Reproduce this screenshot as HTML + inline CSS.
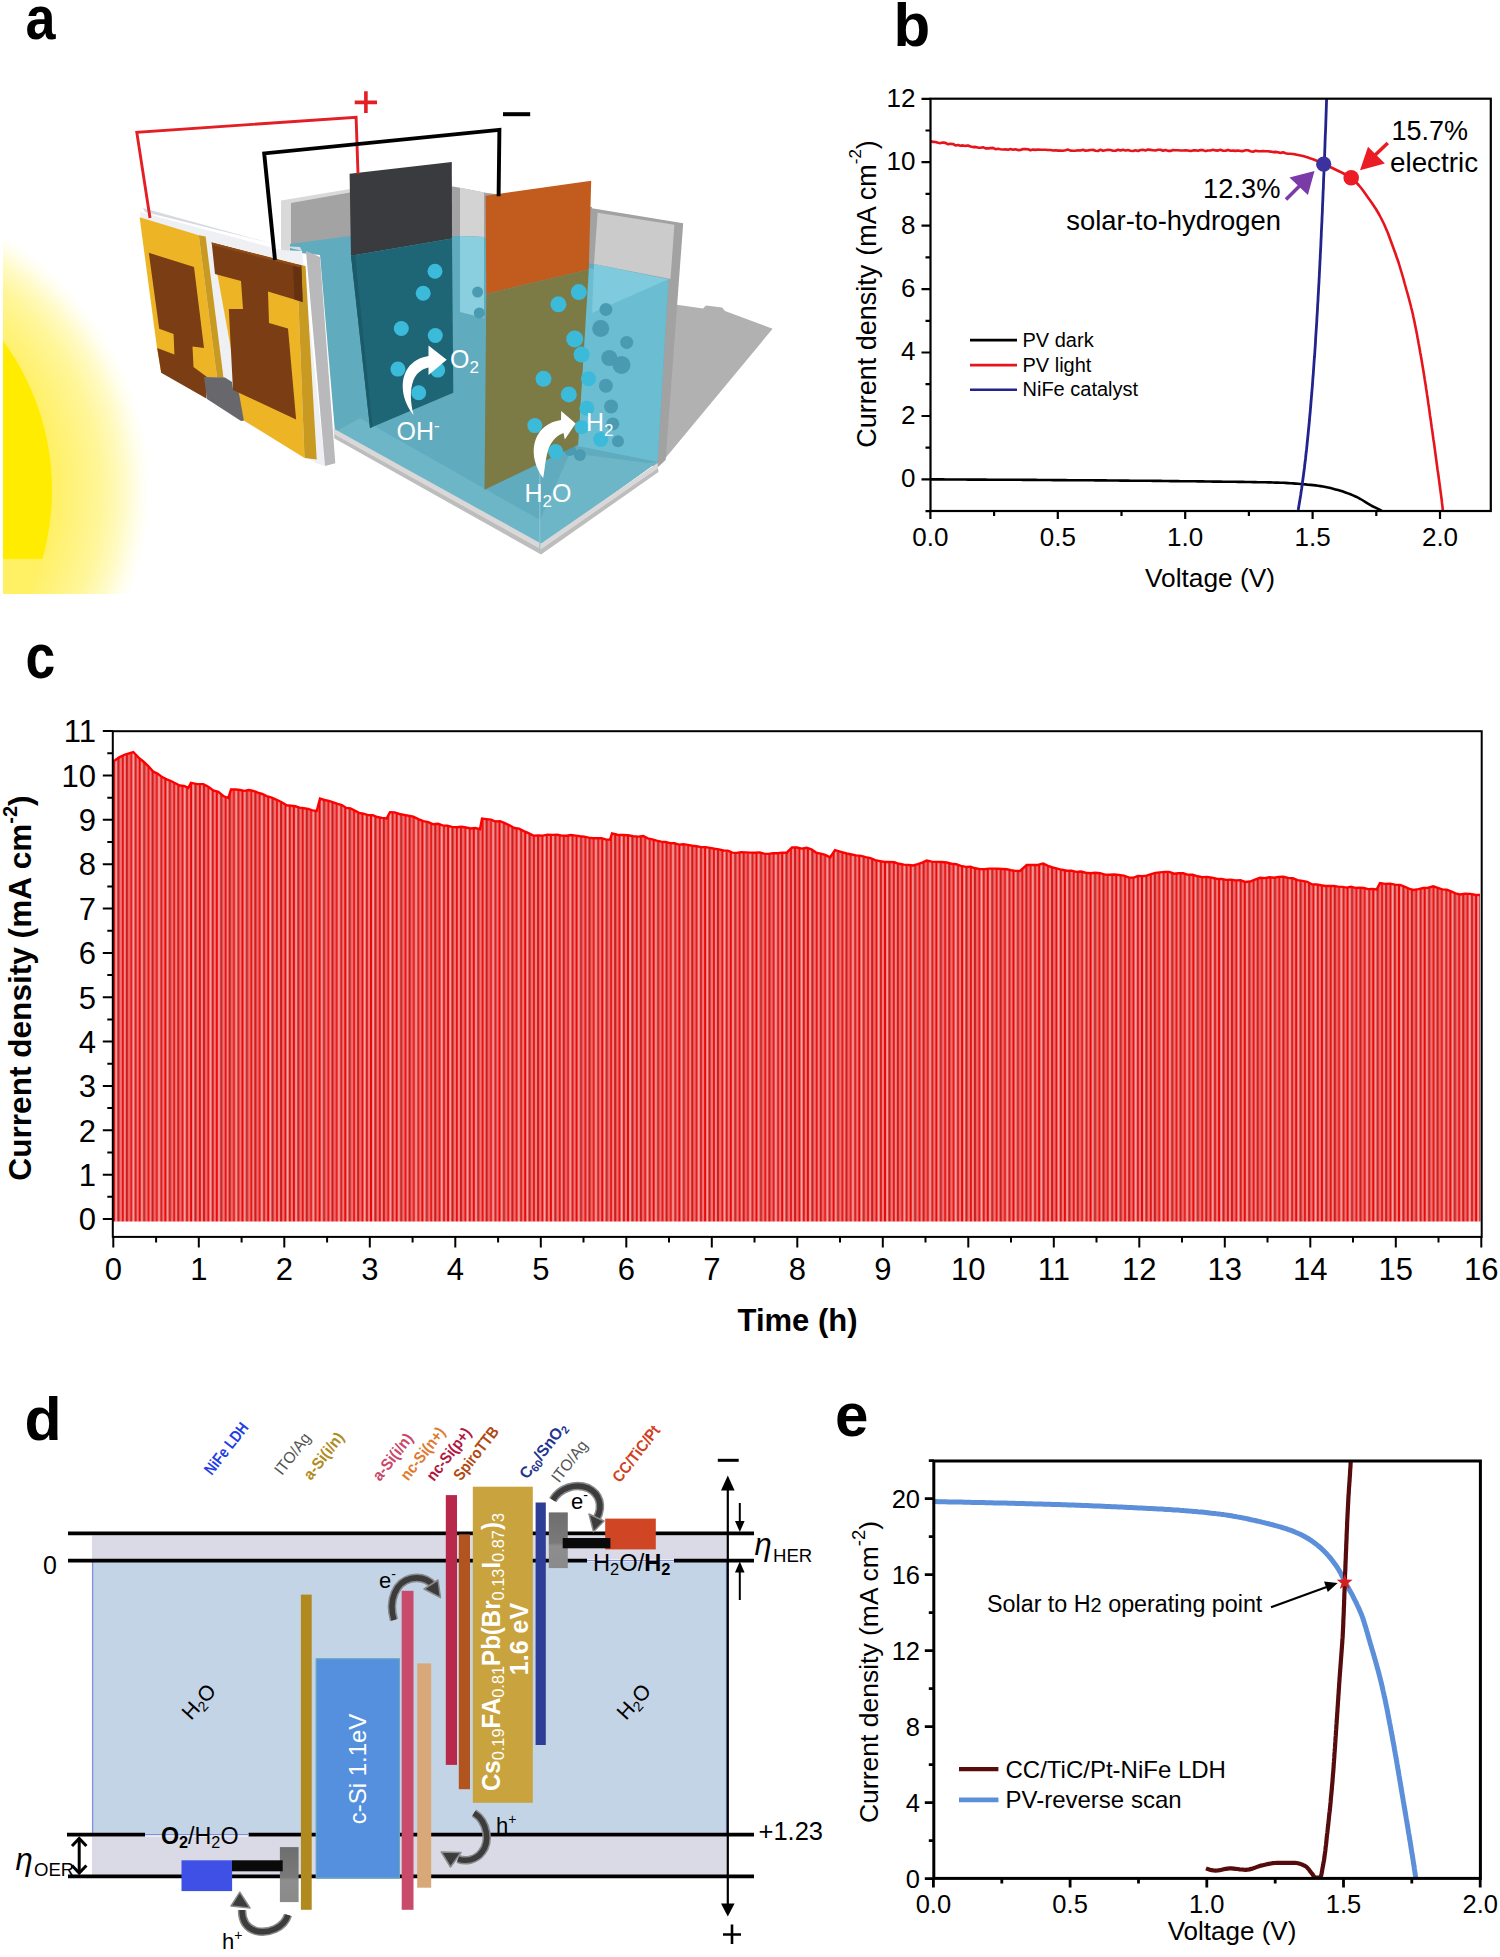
<!DOCTYPE html>
<html><head><meta charset="utf-8"><title>Figure</title>
<style>
html,body{margin:0;padding:0;background:#fff;}
body{width:1500px;height:1957px;overflow:hidden;font-family:"Liberation Sans",sans-serif;}
svg{display:block;}
text{font-family:"Liberation Sans",sans-serif;}
</style></head><body>
<svg width="1500" height="1957" viewBox="0 0 1500 1957">
<rect x="0" y="0" width="1500" height="1957" fill="#fff"/>
<text transform="translate(25.5,39.2) scale(0.87,1)" font-size="62" font-weight="bold" fill="#000">a</text>
<text transform="translate(893.5,45.6) scale(0.97,1)" font-size="62" font-weight="bold" fill="#000">b</text>
<text transform="translate(25.5,677.8) scale(0.85,1)" font-size="63" font-weight="bold" fill="#000">c</text>
<text transform="translate(24.5,1440.3) scale(0.98,1)" font-size="62" font-weight="bold" fill="#000">d</text>
<text transform="translate(835,1435.8) scale(0.97,1)" font-size="62" font-weight="bold" fill="#000">e</text>
<g id="pb">
<clipPath id="cpb"><rect x="930.5" y="98.7" width="560.3" height="412.3"/></clipPath>
<g clip-path="url(#cpb)">
<polyline points="930.5,479.4 933,479.4 935.5,479.4 938,479.4 940.5,479.4 943,479.4 945.5,479.5 948,479.5 950.5,479.5 953,479.5 955.5,479.5 958,479.5 960.5,479.5 963,479.5 965.5,479.5 968,479.6 970.5,479.6 973,479.6 975.5,479.6 978,479.6 980.5,479.6 983,479.6 985.5,479.6 988,479.7 990.5,479.7 993,479.7 995.5,479.7 998,479.7 1000.5,479.7 1003,479.7 1005.5,479.8 1008,479.8 1010.5,479.8 1013,479.8 1015.5,479.8 1018,479.8 1020.5,479.8 1023,479.9 1025.5,479.9 1028,479.9 1030.5,479.9 1033,479.9 1035.5,479.9 1038,480 1040.5,480 1043,480 1045.5,480 1048,480 1050.5,480 1053,480.1 1055.5,480.1 1058,480.1 1060.5,480.1 1063,480.1 1065.5,480.1 1068,480.2 1070.5,480.2 1073,480.2 1075.5,480.2 1078,480.2 1080.5,480.3 1083,480.3 1085.5,480.3 1088,480.3 1090.5,480.3 1093,480.3 1095.5,480.4 1098,480.4 1100.5,480.4 1103,480.4 1105.5,480.4 1108,480.5 1110.5,480.5 1113,480.5 1115.5,480.5 1118,480.5 1120.5,480.6 1123,480.6 1125.5,480.6 1128,480.6 1130.5,480.7 1133,480.7 1135.5,480.7 1138,480.7 1140.5,480.7 1143,480.8 1145.5,480.8 1148,480.8 1150.5,480.8 1153,480.9 1155.5,480.9 1158,480.9 1160.5,480.9 1163,481 1165.5,481 1168,481 1170.5,481.1 1173,481.1 1175.5,481.1 1178,481.1 1180.5,481.2 1183,481.2 1185.5,481.2 1188,481.3 1190.5,481.3 1193,481.3 1195.5,481.3 1198,481.4 1200.5,481.4 1203,481.4 1205.5,481.5 1208,481.5 1210.5,481.5 1213,481.6 1215.5,481.6 1218,481.6 1220.5,481.6 1223,481.7 1225.5,481.7 1228,481.7 1230.5,481.8 1233,481.8 1235.5,481.8 1238,481.9 1240.5,481.9 1243,481.9 1245.5,482 1248,482 1250.5,482 1253,482.1 1255.5,482.1 1258,482.2 1260.5,482.2 1263,482.3 1265.5,482.3 1268,482.4 1270.5,482.4 1273,482.5 1275.5,482.6 1278,482.6 1280.5,482.7 1283,482.8 1285.5,482.9 1288,483.1 1290.5,483.3 1293,483.4 1295.5,483.6 1298,483.8 1300.5,484 1303,484.2 1305.5,484.4 1308,484.7 1310.5,484.9 1313,485.1 1315.5,485.4 1318,485.7 1320.5,486.1 1323,486.5 1325.5,487 1328,487.5 1330.5,488.1 1333,488.7 1335.5,489.4 1338,490.1 1340.5,490.8 1343,491.6 1345.5,492.5 1348,493.4 1350.5,494.3 1353,495.4 1355.5,496.5 1358,497.6 1360.5,499 1363,500.5 1365.5,502.1 1368,503.7 1370.5,505.2 1373,506.5 1375.5,507.6 1378,508.8 1380.5,510.2 1383,512 1385.5,514.5" fill="none" stroke="#000" stroke-width="2.6"/>
<polyline points="930.5,141.1 933,141.9 935.5,142 938,142.7 940.5,143.1 943,142.6 945.5,142.9 948,144.3 950.5,143.8 953,144 955.5,145.4 958,144.9 960.5,145.7 963,145.4 965.5,145.9 968,145.5 970.5,146.5 973,147.1 975.5,146.9 978,147.6 980.5,147.8 983,147.2 985.5,148.4 988,148.4 990.5,148.1 993,147.9 995.5,149.2 998,148.8 1000.5,149.2 1003,149.5 1005.5,149.4 1008,149.8 1010.5,149.1 1013,149.8 1015.5,149.3 1018,150.1 1020.5,150 1023,149 1025.5,149.1 1028,149.2 1030.5,150.3 1033,149.6 1035.5,149.9 1038,149.5 1040.5,149.8 1043,149.7 1045.5,149.7 1048,150 1050.5,150 1053,150.5 1055.5,150.2 1058,150.6 1060.5,150.5 1063,150.7 1065.5,150.3 1068,149.6 1070.5,150.6 1073,150.8 1075.5,150.7 1078,150.3 1080.5,150.5 1083,149.8 1085.5,150.7 1088,150.4 1090.5,150 1093,149.7 1095.5,150.8 1098,151 1100.5,149.7 1103,150.7 1105.5,150.2 1108,149.8 1110.5,150 1113,150.7 1115.5,150.8 1118,149.7 1120.5,150.5 1123,149.7 1125.5,150.6 1128,150.1 1130.5,150.8 1133,151 1135.5,150.3 1138,151 1140.5,150 1143,149.7 1145.5,150.4 1148,149.6 1150.5,149.9 1153,150.2 1155.5,150.5 1158,149.8 1160.5,149.7 1163,150.8 1165.5,150 1168,150.9 1170.5,150.9 1173,150.1 1175.5,150.3 1178,150.3 1180.5,150.5 1183,150.5 1185.5,150.4 1188,150.5 1190.5,151 1193,150.4 1195.5,150.3 1198,150.7 1200.5,150 1203,150.1 1205.5,151.1 1208,150.5 1210.5,150.5 1213,149.8 1215.5,150.4 1218,150.6 1220.5,149.8 1223,150.7 1225.5,150.7 1228,149.9 1230.5,150.8 1233,150.6 1235.5,150.9 1238,150.5 1240.5,151 1243,151.1 1245.5,150.2 1248,150.3 1250.5,151.2 1253,151.7 1255.5,150.7 1258,151.1 1260.5,151.3 1263,151.1 1265.5,151.3 1268,151.3 1270.5,151.6 1273,152.1 1275.5,151.9 1278,152.3 1280.5,153 1283,152.2 1285.5,153.2 1288,153.7 1290.5,153.7 1293,154 1295.5,154.4 1298,154.9 1300.5,155.4 1303,156.1 1305.5,156.8 1308,157.6 1310.5,158.4 1313,159.3 1315.5,160.3 1318,161.3 1320.5,162.5 1323,163.7 1323.7,164 1330.2,167 1336.4,170 1342.6,173 1348.2,176 1352.5,179 1355.8,182 1358.6,185 1361.1,188 1363.4,191 1365.5,194 1367.6,197 1369.8,200 1371.9,203 1373.9,206 1375.9,209 1377.7,212 1379.4,215 1381,218 1382.5,221 1384,224 1385.3,227 1386.6,230 1387.9,233 1389,236 1390.1,239 1391.2,242 1392.3,245 1393.4,248 1394.5,251 1395.6,254 1396.6,257 1397.7,260 1398.7,263 1399.6,266 1400.5,269 1401.4,272 1402.3,275 1403.2,278 1404,281 1404.8,284 1405.7,287 1406.5,290 1407.4,293 1408.2,296 1409,299 1409.8,302 1410.6,305 1411.3,308 1412.1,311 1412.8,314 1413.4,317 1414.1,320 1414.7,323 1415.3,326 1415.9,329 1416.5,332 1417.1,335 1417.6,338 1418.2,341 1418.7,344 1419.3,347 1419.8,350 1420.3,353 1420.9,356 1421.4,359 1421.9,362 1422.4,365 1422.9,368 1423.4,371 1423.9,374 1424.4,377 1424.8,380 1425.3,383 1425.8,386 1426.2,389 1426.7,392 1427.1,395 1427.6,398 1428,401 1428.4,404 1428.9,407 1429.3,410 1429.7,413 1430.1,416 1430.6,419 1431,422 1431.4,425 1431.8,428 1432.3,431 1432.7,434 1433.1,437 1433.5,440 1434,443 1434.4,446 1434.8,449 1435.2,452 1435.6,455 1436,458 1436.4,461 1436.8,464 1437.2,467 1437.6,470 1438.1,473 1438.5,476 1438.9,479 1439.3,482 1439.7,485 1440.1,488 1440.5,491 1440.9,494 1441.3,497 1441.7,500 1442,503 1442.4,506 1442.7,509 1443,512 1443.3,515" fill="none" stroke="#e8141c" stroke-width="2.6" stroke-linejoin="round"/>
<polyline points="1326.7,96 1326.6,99 1326.5,102 1326.4,105 1326.3,108 1326.2,111 1326.1,114 1326,117 1325.9,120 1325.8,123 1325.7,126 1325.6,129 1325.5,132 1325.3,135 1325.2,138 1325.1,141 1325,144 1324.9,147 1324.8,150 1324.7,153 1324.6,156 1324.5,159 1324.3,162 1324.2,165 1324.1,168 1324,171 1323.9,174 1323.7,177 1323.6,180 1323.5,183 1323.4,186 1323.3,189 1323.1,192 1323,195 1322.9,198 1322.8,201 1322.6,204 1322.5,207 1322.4,210 1322.3,213 1322.1,216 1322,219 1321.9,222 1321.7,225 1321.6,228 1321.4,231 1321.3,234 1321.2,237 1321,240 1320.9,243 1320.8,246 1320.6,249 1320.5,252 1320.3,255 1320.2,258 1320,261 1319.9,264 1319.7,267 1319.6,270 1319.4,273 1319.3,276 1319.1,279 1319,282 1318.8,285 1318.6,288 1318.5,291 1318.3,294 1318.1,297 1318,300 1317.8,303 1317.6,306 1317.5,309 1317.3,312 1317.1,315 1316.9,318 1316.8,321 1316.6,324 1316.4,327 1316.2,330 1316,333 1315.8,336 1315.6,339 1315.5,342 1315.3,345 1315.1,348 1314.9,351 1314.7,354 1314.5,357 1314.2,360 1314,363 1313.8,366 1313.6,369 1313.4,372 1313.2,375 1312.9,378 1312.7,381 1312.5,384 1312.3,387 1312,390 1311.8,393 1311.5,396 1311.3,399 1311,402 1310.8,405 1310.5,408 1310.3,411 1310,414 1309.7,417 1309.5,420 1309.2,423 1308.9,426 1308.6,429 1308.3,432 1308,435 1307.7,438 1307.4,441 1307.1,444 1306.8,447 1306.5,450 1306.1,453 1305.8,456 1305.5,459 1305.1,462 1304.7,465 1304.4,468 1304,471 1303.6,474 1303.2,477 1302.8,480 1302.4,483 1302,486 1301.6,489 1301.1,492 1300.7,495 1300.2,498 1299.7,501 1299.2,504 1298.7,507 1298.2,510 1297.6,513" fill="none" stroke="#23238e" stroke-width="2.8"/>
</g>
<circle cx="1323.7" cy="164.2" r="7.6" fill="#3b32a0"/>
<circle cx="1351.2" cy="177.8" r="7.8" fill="#ec1c24"/>
<rect x="930.5" y="98.7" width="560.3" height="412.3" fill="none" stroke="#000" stroke-width="2.2"/>
<path d="M925.5,511.1 H930.5 M921.5,479.4 H930.5 M925.5,447.7 H930.5 M921.5,416 H930.5 M925.5,384.2 H930.5 M921.5,352.5 H930.5 M925.5,320.8 H930.5 M921.5,289.1 H930.5 M925.5,257.4 H930.5 M921.5,225.6 H930.5 M925.5,193.9 H930.5 M921.5,162.2 H930.5 M925.5,130.5 H930.5 M921.5,98.8 H930.5 M930.4,511 V519 M994.1,511 V516 M1057.8,511 V519 M1121.5,511 V516 M1185.2,511 V519 M1248.9,511 V516 M1312.6,511 V519 M1376.3,511 V516 M1440,511 V519" stroke="#000" stroke-width="2.2" fill="none"/>
<text x="915.5" y="487.3" font-size="26" text-anchor="end" font-weight="normal" fill="#000" >0</text>
<text x="915.5" y="423.9" font-size="26" text-anchor="end" font-weight="normal" fill="#000" >2</text>
<text x="915.5" y="360.4" font-size="26" text-anchor="end" font-weight="normal" fill="#000" >4</text>
<text x="915.5" y="297" font-size="26" text-anchor="end" font-weight="normal" fill="#000" >6</text>
<text x="915.5" y="233.5" font-size="26" text-anchor="end" font-weight="normal" fill="#000" >8</text>
<text x="915.5" y="170.1" font-size="26" text-anchor="end" font-weight="normal" fill="#000" >10</text>
<text x="915.5" y="106.7" font-size="26" text-anchor="end" font-weight="normal" fill="#000" >12</text>
<text x="930.4" y="546" font-size="26" text-anchor="middle" font-weight="normal" fill="#000" >0.0</text>
<text x="1057.8" y="546" font-size="26" text-anchor="middle" font-weight="normal" fill="#000" >0.5</text>
<text x="1185.2" y="546" font-size="26" text-anchor="middle" font-weight="normal" fill="#000" >1.0</text>
<text x="1312.6" y="546" font-size="26" text-anchor="middle" font-weight="normal" fill="#000" >1.5</text>
<text x="1440" y="546" font-size="26" text-anchor="middle" font-weight="normal" fill="#000" >2.0</text>
<text transform="translate(876.3,294) rotate(-90)" font-size="27" text-anchor="middle" fill="#000">Current density<tspan dx="9">(mA cm</tspan><tspan dy="-15" font-size="17">-2</tspan><tspan dy="15">)</tspan></text>
<text x="1210" y="587" font-size="26.3" text-anchor="middle" font-weight="normal" fill="#000" >Voltage (V)</text>
<path d="M970,340.1 H1017" stroke="#000" stroke-width="2.6"/>
<path d="M970,365.1 H1017" stroke="#e8141c" stroke-width="2.6"/>
<path d="M970,389.8 H1017" stroke="#23238e" stroke-width="2.6"/>
<text x="1022.5" y="346.6" font-size="20" text-anchor="start" font-weight="normal" fill="#000" >PV dark</text>
<text x="1022.5" y="371.6" font-size="20" text-anchor="start" font-weight="normal" fill="#000" >PV light</text>
<text x="1022.5" y="396.3" font-size="20" text-anchor="start" font-weight="normal" fill="#000" >NiFe catalyst</text>
<text x="1280.5" y="197.5" font-size="27.3" text-anchor="end" font-weight="normal" fill="#000" >12.3%</text>
<text x="1281" y="229.7" font-size="27.4" text-anchor="end" font-weight="normal" fill="#000" >solar-to-hydrogen</text>
<text x="1391.5" y="140.2" font-size="27" text-anchor="start" font-weight="normal" fill="#000" >15.7%</text>
<text x="1390" y="171.7" font-size="27.8" text-anchor="start" font-weight="normal" fill="#000" >electric</text>
<path d="M1286,199.5 L1303,182.5" stroke="#7a3aa8" stroke-width="3.6" fill="none"/>
<polygon points="1314.5,171 1289.5,177.5 1307.9,195.1" fill="#7a3aa8"/>
<path d="M1387.8,143 L1372,158" stroke="#ec1c24" stroke-width="3.6" fill="none"/>
<polygon points="1360,170.2 1368,146.7 1384.9,163.6" fill="#ec1c24"/>
</g>
<g id="pc">
<defs><pattern id="stripes" x="113" y="0" width="25.7" height="10" patternUnits="userSpaceOnUse"><rect x="0" y="0" width="4.3" height="10" fill="#f6a0a0"/><rect x="0" y="0" width="2.15" height="10" fill="#ea0808"/><rect x="4.3" y="0" width="4.3" height="10" fill="#f27272"/><rect x="4.3" y="0" width="2.15" height="10" fill="#c41f1f"/><rect x="8.6" y="0" width="4.3" height="10" fill="#f48888"/><rect x="8.6" y="0" width="2.15" height="10" fill="#e81010"/><rect x="12.8" y="0" width="4.3" height="10" fill="#f06c6c"/><rect x="12.8" y="0" width="2.15" height="10" fill="#cc1c1c"/><rect x="17.1" y="0" width="4.3" height="10" fill="#f7a8a8"/><rect x="17.1" y="0" width="2.15" height="10" fill="#e60c0c"/><rect x="21.4" y="0" width="4.3" height="10" fill="#f27878"/><rect x="21.4" y="0" width="2.15" height="10" fill="#d41a1a"/></pattern></defs>
<polygon points="113.3,1221.5 113.3,761.7 125,754.3 133.3,752.7 143.3,761.7 153.3,771.7 166.7,780 188.3,788.3 191,782.7 203.3,784 228.3,798.3 231,790 253.3,790.7 266.7,796 286.7,805 316.7,810.7 320,799 333.3,801.7 363.3,814.3 386.7,818.3 390,811.7 413.3,816.7 433.3,824 480,829.3 482,819 500,821.7 533.3,835 566.7,835 580,836.7 610,840 612,833.3 633.3,836 643.3,836.7 670,843.3 696.7,846.7 736.7,852.7 786.7,853.3 792,847.7 806.7,848.3 830,857.3 835,851 846.7,852.7 880,861 913.3,865 926.7,861 946.7,863.3 980,868.3 1020,870.5 1026.7,865 1043.3,864.3 1066.7,870.7 1100,873.3 1133.3,877.3 1160,872.3 1183.3,873.3 1216.7,879 1250,881.7 1260,877.7 1283.3,876.7 1316.7,885 1376.7,889.3 1380,882.7 1400,885 1413.3,890 1433.3,886 1460,894 1480,895 1480.5,1221.5" fill="url(#stripes)"/>
<polyline points="113.3,761.4 119.2,757.4 125,754.5 133.3,752 138.3,757.3 143.3,761.5 148.3,766 153.3,771.7 157.8,773.7 162.2,777.1 166.7,779.3 171,781 175.3,783.2 179.7,785.5 184,786 188.3,787.9 191,782.9 197.2,784.1 203.3,784.1 208.3,786.7 213.3,790.5 218.3,791.9 223.3,796 228.3,798 231,789.4 235.5,789.5 239.9,790 244.4,790.9 248.8,790 253.3,790.8 257.8,792.7 262.2,794 266.7,796.1 271.7,797.6 276.7,799.8 281.7,802.3 286.7,805.3 291,805.7 295.3,806.3 299.6,807.6 303.8,808.2 308.1,808.8 312.4,810.4 316.7,811 320,798.6 324.4,800 328.9,800.8 333.3,802.3 337.6,803.9 341.9,805 346.2,807.9 350.4,808.3 354.7,810.6 359,812.9 363.3,813.7 368,815.1 372.7,815.2 377.3,817 382,817.9 386.7,818.4 390,812.3 394.7,812.4 399.3,814 404,814.9 408.6,815.8 413.3,816.6 418.3,819.1 423.3,821.1 428.3,822.1 433.3,824.3 438,823.8 442.6,825.4 447.3,825.8 452,826.9 456.6,827.2 461.3,826.8 466,827.5 470.7,828.5 475.3,828 480,829.2 482,818.5 486.5,819.1 491,819.6 495.5,821.5 500,821.1 504.8,823.2 509.5,825.3 514.3,828 519,828.6 523.8,831.1 528.5,833.2 533.3,835.6 538.1,835.5 542.8,835.6 547.6,834.6 552.4,834.9 557.2,834.8 561.9,835.6 566.7,835.7 571.1,835 575.6,835.6 580,836.3 584.3,836.7 588.6,837.6 592.9,838.3 597.1,838.2 601.4,838.3 605.7,839.4 610,839.8 612,833.4 617.3,834.7 622.6,835 628,835.3 633.3,836.2 638.3,836.6 643.3,836 647.8,838.4 652.2,839.3 656.6,840.6 661.1,841.6 665.5,842 670,843.1 674.5,843.2 678.9,844.6 683.4,844.3 687.8,844.9 692.2,845.7 696.7,846.2 701.1,847.1 705.6,847.3 710,847.9 714.5,848.8 718.9,849.4 723.4,850.5 727.8,850.6 732.3,852.6 736.7,852.9 741.2,852.2 745.8,852.4 750.3,852.6 754.9,852.7 759.4,852.4 764,853.6 768.5,853.9 773.1,853.1 777.6,853.2 782.2,852.6 786.7,852.7 792,847.4 796.9,847.5 801.8,848.6 806.7,847.8 811.4,849.3 816,852.6 820.7,853.7 825.3,854.9 830,857.4 835,850.2 840.9,851.9 846.7,853.5 851.5,854.5 856.2,855.4 861,855.9 865.7,857.2 870.5,858.1 875.2,860.2 880,861.1 884.8,862 889.5,861.9 894.3,862.3 899,863.8 903.8,864.6 908.5,865 913.3,865.5 917.8,864.2 922.2,862.7 926.7,860.6 931.7,861.6 936.7,861.9 941.7,862 946.7,862.5 951.5,863.7 956.2,864.3 961,865.8 965.7,866.9 970.5,866.8 975.2,868.3 980,869.1 984.4,869.3 988.9,868.6 993.3,868.6 997.8,868.8 1002.2,869 1006.7,869.3 1011.1,870.2 1015.6,870.9 1020,871 1026.7,865 1032.2,865 1037.8,865 1043.3,863.6 1048,865.8 1052.7,867.5 1057.3,868.6 1062,869.8 1066.7,870.7 1071.5,870.6 1076.2,871.9 1081,871.5 1085.7,872.7 1090.5,873.3 1095.2,872.8 1100,873.1 1104.8,874.6 1109.5,874.8 1114.3,874.5 1119,875 1123.8,875.6 1128.5,877.4 1133.3,877.8 1137.8,875.9 1142.2,876.2 1146.7,875.6 1151.1,874.2 1155.5,872.9 1160,872.4 1164.7,871.9 1169.3,871.9 1174,873.7 1178.6,873.3 1183.3,873.3 1188.1,874.8 1192.8,874.8 1197.6,876.3 1202.4,877.1 1207.2,876.9 1211.9,877.8 1216.7,878.7 1221.5,879 1226.2,879.9 1231,879.8 1235.7,880.4 1240.5,880.3 1245.2,882 1250,881.5 1255,879.6 1260,877.8 1264.7,878.1 1269.3,877.2 1274,877.8 1278.6,876.9 1283.3,876.8 1288.1,877.9 1292.8,878.3 1297.6,880.2 1302.4,880.9 1307.2,881.8 1311.9,884.3 1316.7,884.5 1321,885.3 1325.3,886 1329.6,886 1333.8,886 1338.1,886.6 1342.4,886.9 1346.7,887.6 1351,886.8 1355.3,887.9 1359.6,887.7 1363.8,888 1368.1,889.1 1372.4,889 1376.7,889.4 1380,883.1 1385,883.9 1390,883.8 1395,884.6 1400,885 1404.4,886.7 1408.9,888.6 1413.3,889.9 1418.3,889.1 1423.3,888 1428.3,887.7 1433.3,886.3 1437.8,887.9 1442.2,889.4 1446.7,889.6 1451.1,891.4 1455.5,893.4 1460,894.5 1465,893.7 1470,893.9 1475,894.7 1480,895" fill="none" stroke="#f00" stroke-width="2.4"/>
<rect x="112.8" y="731.2" width="1368.9" height="505.70000000000005" fill="none" stroke="#000" stroke-width="2"/>
<path d="M102.8,1219 H112.8 M107.3,1196.8 H112.8 M102.8,1174.7 H112.8 M107.3,1152.5 H112.8 M102.8,1130.3 H112.8 M107.3,1108.1 H112.8 M102.8,1086 H112.8 M107.3,1063.8 H112.8 M102.8,1041.6 H112.8 M107.3,1019.4 H112.8 M102.8,997.2 H112.8 M107.3,975.1 H112.8 M102.8,952.9 H112.8 M107.3,930.7 H112.8 M102.8,908.5 H112.8 M107.3,886.4 H112.8 M102.8,864.2 H112.8 M107.3,842 H112.8 M102.8,819.8 H112.8 M107.3,797.7 H112.8 M102.8,775.5 H112.8 M107.3,753.3 H112.8 M102.8,731.1 H112.8 M113.3,1236.9 V1247.4 M156.1,1236.9 V1242.4 M198.8,1236.9 V1247.4 M241.6,1236.9 V1242.4 M284.3,1236.9 V1247.4 M327.1,1236.9 V1242.4 M369.8,1236.9 V1247.4 M412.6,1236.9 V1242.4 M455.3,1236.9 V1247.4 M498.1,1236.9 V1242.4 M540.8,1236.9 V1247.4 M583.5,1236.9 V1242.4 M626.3,1236.9 V1247.4 M669,1236.9 V1242.4 M711.8,1236.9 V1247.4 M754.5,1236.9 V1242.4 M797.3,1236.9 V1247.4 M840,1236.9 V1242.4 M882.8,1236.9 V1247.4 M925.5,1236.9 V1242.4 M968.3,1236.9 V1247.4 M1011,1236.9 V1242.4 M1053.8,1236.9 V1247.4 M1096.5,1236.9 V1242.4 M1139.3,1236.9 V1247.4 M1182,1236.9 V1242.4 M1224.8,1236.9 V1247.4 M1267.5,1236.9 V1242.4 M1310.3,1236.9 V1247.4 M1353,1236.9 V1242.4 M1395.8,1236.9 V1247.4 M1438.5,1236.9 V1242.4 M1481.3,1236.9 V1247.4" stroke="#000" stroke-width="2" fill="none"/>
<text x="96" y="1230.2" font-size="31" text-anchor="end" font-weight="normal" fill="#000" >0</text>
<text x="96" y="1185.9" font-size="31" text-anchor="end" font-weight="normal" fill="#000" >1</text>
<text x="96" y="1141.5" font-size="31" text-anchor="end" font-weight="normal" fill="#000" >2</text>
<text x="96" y="1097.2" font-size="31" text-anchor="end" font-weight="normal" fill="#000" >3</text>
<text x="96" y="1052.8" font-size="31" text-anchor="end" font-weight="normal" fill="#000" >4</text>
<text x="96" y="1008.5" font-size="31" text-anchor="end" font-weight="normal" fill="#000" >5</text>
<text x="96" y="964.1" font-size="31" text-anchor="end" font-weight="normal" fill="#000" >6</text>
<text x="96" y="919.8" font-size="31" text-anchor="end" font-weight="normal" fill="#000" >7</text>
<text x="96" y="875.4" font-size="31" text-anchor="end" font-weight="normal" fill="#000" >8</text>
<text x="96" y="831" font-size="31" text-anchor="end" font-weight="normal" fill="#000" >9</text>
<text x="96" y="786.7" font-size="31" text-anchor="end" font-weight="normal" fill="#000" >10</text>
<text x="96" y="742.4" font-size="31" text-anchor="end" font-weight="normal" fill="#000" >11</text>
<text x="113.3" y="1279.6" font-size="31" text-anchor="middle" font-weight="normal" fill="#000" >0</text>
<text x="198.8" y="1279.6" font-size="31" text-anchor="middle" font-weight="normal" fill="#000" >1</text>
<text x="284.3" y="1279.6" font-size="31" text-anchor="middle" font-weight="normal" fill="#000" >2</text>
<text x="369.8" y="1279.6" font-size="31" text-anchor="middle" font-weight="normal" fill="#000" >3</text>
<text x="455.3" y="1279.6" font-size="31" text-anchor="middle" font-weight="normal" fill="#000" >4</text>
<text x="540.8" y="1279.6" font-size="31" text-anchor="middle" font-weight="normal" fill="#000" >5</text>
<text x="626.3" y="1279.6" font-size="31" text-anchor="middle" font-weight="normal" fill="#000" >6</text>
<text x="711.8" y="1279.6" font-size="31" text-anchor="middle" font-weight="normal" fill="#000" >7</text>
<text x="797.3" y="1279.6" font-size="31" text-anchor="middle" font-weight="normal" fill="#000" >8</text>
<text x="882.8" y="1279.6" font-size="31" text-anchor="middle" font-weight="normal" fill="#000" >9</text>
<text x="968.3" y="1279.6" font-size="31" text-anchor="middle" font-weight="normal" fill="#000" >10</text>
<text x="1053.8" y="1279.6" font-size="31" text-anchor="middle" font-weight="normal" fill="#000" >11</text>
<text x="1139.3" y="1279.6" font-size="31" text-anchor="middle" font-weight="normal" fill="#000" >12</text>
<text x="1224.8" y="1279.6" font-size="31" text-anchor="middle" font-weight="normal" fill="#000" >13</text>
<text x="1310.3" y="1279.6" font-size="31" text-anchor="middle" font-weight="normal" fill="#000" >14</text>
<text x="1395.8" y="1279.6" font-size="31" text-anchor="middle" font-weight="normal" fill="#000" >15</text>
<text x="1481.3" y="1279.6" font-size="31" text-anchor="middle" font-weight="normal" fill="#000" >16</text>
<text transform="translate(31.4,988) rotate(-90)" font-size="31.6" font-weight="bold" text-anchor="middle" fill="#000">Current density (mA cm<tspan dy="-14" font-size="20">-2</tspan><tspan dy="14">)</tspan></text>
<text x="797.5" y="1331" font-size="31" text-anchor="middle" font-weight="bold" fill="#000" >Time (h)</text>
</g>
<g id="pe">
<clipPath id="cpe"><rect x="933.8" y="1460.0" width="546.6000000000001" height="418.4000000000001"/></clipPath>
<g clip-path="url(#cpe)">
<polyline points="934,1501.6 936,1501.6 938,1501.7 940,1501.7 942,1501.7 944,1501.8 946,1501.8 948,1501.9 950,1501.9 952,1501.9 954,1502 956,1502 958,1502.1 960,1502.1 962,1502.1 964,1502.2 966,1502.2 968,1502.3 970,1502.3 972,1502.4 974,1502.4 976,1502.4 978,1502.5 980,1502.5 982,1502.6 984,1502.6 986,1502.7 988,1502.7 990,1502.8 992,1502.8 994,1502.9 996,1502.9 998,1503 1000,1503 1002,1503 1004,1503.1 1006,1503.1 1008,1503.2 1010,1503.2 1012,1503.3 1014,1503.3 1016,1503.4 1018,1503.4 1020,1503.5 1022,1503.6 1024,1503.6 1026,1503.7 1028,1503.7 1030,1503.8 1032,1503.8 1034,1503.9 1036,1503.9 1038,1504 1040,1504 1042,1504.1 1044,1504.2 1046,1504.2 1048,1504.3 1050,1504.3 1052,1504.4 1054,1504.5 1056,1504.5 1058,1504.6 1060,1504.6 1062,1504.7 1064,1504.8 1066,1504.8 1068,1504.9 1070,1505 1072,1505 1074,1505.1 1076,1505.2 1078,1505.3 1080,1505.3 1081.9,1505.4 1083.9,1505.5 1085.9,1505.6 1087.9,1505.6 1089.9,1505.7 1091.9,1505.8 1093.9,1505.9 1095.9,1506 1097.9,1506 1099.9,1506.1 1101.9,1506.2 1103.9,1506.3 1105.9,1506.4 1107.9,1506.5 1109.9,1506.6 1111.9,1506.7 1113.9,1506.7 1115.9,1506.8 1117.9,1506.9 1119.9,1507 1121.9,1507.1 1123.9,1507.2 1125.9,1507.3 1127.9,1507.4 1129.9,1507.5 1131.9,1507.6 1133.9,1507.7 1135.9,1507.8 1137.9,1507.9 1139.9,1508 1141.9,1508.1 1143.9,1508.2 1145.9,1508.3 1147.9,1508.4 1149.9,1508.5 1151.9,1508.6 1153.9,1508.7 1155.9,1508.8 1157.9,1508.9 1159.9,1509 1161.9,1509.1 1163.9,1509.2 1165.9,1509.4 1167.9,1509.5 1169.9,1509.6 1171.8,1509.7 1173.8,1509.9 1175.8,1510 1177.8,1510.1 1179.8,1510.3 1181.8,1510.4 1183.8,1510.6 1185.8,1510.7 1187.8,1510.9 1189.8,1511.1 1191.8,1511.2 1193.8,1511.4 1195.8,1511.6 1197.8,1511.8 1199.8,1511.9 1201.8,1512.1 1203.8,1512.3 1205.8,1512.5 1207.7,1512.7 1209.7,1513 1211.7,1513.2 1213.7,1513.4 1215.7,1513.6 1217.7,1513.9 1219.7,1514.1 1221.6,1514.4 1223.6,1514.6 1225.6,1514.9 1227.6,1515.2 1229.5,1515.5 1231.5,1515.8 1233.5,1516.2 1235.4,1516.5 1237.4,1516.9 1239.4,1517.2 1241.4,1517.6 1243.3,1518 1245.3,1518.4 1247.2,1518.8 1249.2,1519.2 1251.2,1519.7 1253.1,1520.1 1255.1,1520.5 1257,1521 1259,1521.4 1260.9,1521.9 1262.9,1522.4 1264.8,1522.8 1266.7,1523.3 1268.7,1523.8 1270.6,1524.3 1272.6,1524.8 1274.5,1525.3 1276.4,1525.8 1278.4,1526.4 1280.3,1526.9 1282.2,1527.5 1284.1,1528.1 1286,1528.7 1287.9,1529.4 1289.8,1530 1291.7,1530.7 1293.5,1531.4 1295.4,1532.2 1297.2,1533 1299.1,1533.8 1300.9,1534.6 1302.7,1535.5 1304.5,1536.5 1306.3,1537.5 1308,1538.5 1309.7,1539.5 1311.3,1540.6 1312.9,1541.7 1314.5,1542.9 1316.1,1544.1 1317.7,1545.4 1319.3,1546.7 1320.8,1548 1322.3,1549.4 1323.7,1550.8 1325.1,1552.2 1326.5,1553.6 1327.8,1555.1 1329.2,1556.6 1330.4,1558.1 1331.7,1559.7 1332.9,1561.3 1334.1,1562.9 1335.3,1564.5 1336.5,1566.2 1337.6,1567.9 1338.6,1569.6 1339.6,1571.3 1340.6,1573 1341.5,1574.8 1342.4,1576.6 1343.3,1578.4 1344.1,1580.2 1345.1,1582 1346,1583.7 1347,1585.5 1348,1587.2 1348.9,1589 1349.9,1590.7 1350.9,1592.5 1351.9,1594.2 1352.8,1596 1353.7,1597.8 1354.6,1599.6 1355.5,1601.3 1356.4,1603.1 1357.2,1605 1358.1,1606.8 1358.9,1608.6 1359.7,1610.4 1360.5,1612.3 1361.3,1614.1 1362,1616 1362.7,1617.8 1363.3,1619.7 1363.9,1621.6 1364.5,1623.5 1365.1,1625.4 1365.7,1627.4 1366.3,1629.3 1366.8,1631.2 1367.4,1633.1 1367.9,1635.1 1368.5,1637 1369,1638.9 1369.6,1640.8 1370.1,1642.7 1370.7,1644.7 1371.3,1646.6 1371.8,1648.5 1372.4,1650.4 1373,1652.4 1373.5,1654.3 1374.1,1656.2 1374.6,1658.1 1375.2,1660 1375.7,1662 1376.3,1663.9 1376.8,1665.8 1377.3,1667.8 1377.9,1669.7 1378.4,1671.6 1378.9,1673.5 1379.4,1675.5 1379.9,1677.4 1380.4,1679.4 1380.9,1681.3 1381.3,1683.2 1381.8,1685.2 1382.3,1687.1 1382.7,1689.1 1383.1,1691 1383.6,1693 1384,1694.9 1384.4,1696.9 1384.9,1698.8 1385.3,1700.8 1385.7,1702.7 1386.1,1704.7 1386.5,1706.7 1386.9,1708.6 1387.3,1710.6 1387.7,1712.5 1388,1714.5 1388.4,1716.5 1388.8,1718.4 1389.2,1720.4 1389.5,1722.4 1389.9,1724.3 1390.3,1726.3 1390.7,1728.3 1391,1730.2 1391.4,1732.2 1391.8,1734.2 1392.1,1736.1 1392.5,1738.1 1392.8,1740.1 1393.2,1742 1393.6,1744 1393.9,1746 1394.3,1747.9 1394.6,1749.9 1395,1751.9 1395.3,1753.9 1395.7,1755.8 1396,1757.8 1396.4,1759.8 1396.7,1761.7 1397,1763.7 1397.4,1765.7 1397.7,1767.6 1398,1769.6 1398.4,1771.6 1398.7,1773.6 1399,1775.5 1399.4,1777.5 1399.7,1779.5 1400,1781.5 1400.4,1783.4 1400.7,1785.4 1401,1787.4 1401.3,1789.3 1401.7,1791.3 1402,1793.3 1402.3,1795.3 1402.7,1797.2 1403,1799.2 1403.3,1801.2 1403.7,1803.2 1404,1805.1 1404.3,1807.1 1404.7,1809.1 1405,1811 1405.3,1813 1405.7,1815 1406,1817 1406.3,1818.9 1406.7,1820.9 1407,1822.9 1407.3,1824.8 1407.7,1826.8 1408,1828.8 1408.3,1830.8 1408.6,1832.7 1409,1834.7 1409.3,1836.7 1409.6,1838.7 1409.9,1840.6 1410.3,1842.6 1410.6,1844.6 1410.9,1846.6 1411.2,1848.5 1411.5,1850.5 1411.8,1852.5 1412.2,1854.5 1412.5,1856.4 1412.8,1858.4 1413.1,1860.4 1413.4,1862.4 1413.7,1864.3 1414.1,1866.3 1414.3,1868.3 1414.6,1870.3 1414.9,1872.2 1415.2,1874.2 1415.5,1876.2 1415.7,1878.2 1416,1880.2 1416.2,1882.2 1416.4,1884" fill="none" stroke="#5b8fd9" stroke-width="5" stroke-linejoin="round"/>
<polyline points="1206,1868.4 1207.9,1869.1 1209.9,1869.7 1211.8,1870.2 1213.8,1870.5 1215.7,1870.6 1217.7,1870.5 1219.7,1870.2 1221.7,1869.8 1223.6,1869.3 1225.6,1868.9 1227.6,1868.6 1229.6,1868.4 1231.6,1868.4 1233.6,1868.6 1235.6,1868.8 1237.6,1869 1239.6,1869.3 1241.6,1869.5 1243.6,1869.7 1245.5,1869.8 1247.5,1869.7 1249.4,1869.4 1251.4,1868.9 1253.3,1868.3 1255.2,1867.6 1257.1,1866.9 1259,1866.2 1261,1865.6 1262.9,1865.2 1264.9,1864.8 1266.8,1864.3 1268.8,1863.9 1270.8,1863.5 1272.8,1863.2 1274.7,1863 1276.7,1862.8 1278.7,1862.8 1280.7,1862.8 1282.7,1862.8 1284.7,1862.8 1286.8,1862.8 1288.8,1862.8 1290.8,1862.8 1292.7,1862.8 1294.7,1862.8 1296.7,1863 1298.8,1863.5 1300.8,1864.1 1302.7,1864.8 1304.4,1865.6 1306,1866.5 1307.4,1867.8 1308.8,1869.4 1310,1871.1 1311.3,1872.7 1312.6,1874.4 1313.8,1876.4 1315.1,1877.6 1317.1,1877.7 1319.2,1877.7 1320.2,1877.4 1321,1876 1321.5,1873.9 1322,1871.5 1322.4,1868.9 1322.8,1866.7 1323.2,1864.8 1323.5,1862.8 1323.9,1860.9 1324.2,1858.9 1324.5,1856.9 1324.7,1855 1325,1853 1325.3,1851 1325.5,1849 1325.7,1847 1326,1845 1326.2,1843 1326.4,1841 1326.6,1839 1326.8,1837 1327,1835 1327.3,1833 1327.5,1831.1 1327.7,1829.1 1327.9,1827.1 1328.2,1825.1 1328.4,1823.1 1328.6,1821.1 1328.8,1819.1 1329,1817.1 1329.2,1815.1 1329.4,1813.2 1329.7,1811.2 1329.9,1809.2 1330.1,1807.2 1330.3,1805.2 1330.5,1803.2 1330.7,1801.2 1330.8,1799.2 1331,1797.2 1331.2,1795.2 1331.4,1793.3 1331.6,1791.3 1331.8,1789.3 1331.9,1787.3 1332.1,1785.3 1332.3,1783.3 1332.5,1781.3 1332.6,1779.3 1332.8,1777.3 1332.9,1775.3 1333.1,1773.3 1333.3,1771.3 1333.4,1769.3 1333.6,1767.3 1333.7,1765.3 1333.8,1763.4 1334,1761.4 1334.1,1759.4 1334.3,1757.4 1334.4,1755.4 1334.5,1753.4 1334.7,1751.4 1334.8,1749.4 1335,1747.4 1335.1,1745.4 1335.2,1743.4 1335.4,1741.4 1335.5,1739.4 1335.6,1737.4 1335.8,1735.4 1335.9,1733.4 1336,1731.4 1336.2,1729.4 1336.3,1727.4 1336.4,1725.4 1336.6,1723.4 1336.7,1721.4 1336.8,1719.5 1337,1717.5 1337.1,1715.5 1337.2,1713.5 1337.4,1711.5 1337.5,1709.5 1337.6,1707.5 1337.8,1705.5 1337.9,1703.5 1338,1701.5 1338.2,1699.5 1338.3,1697.5 1338.4,1695.5 1338.6,1693.5 1338.7,1691.5 1338.8,1689.5 1339,1687.5 1339.1,1685.5 1339.2,1683.5 1339.4,1681.5 1339.5,1679.5 1339.6,1677.5 1339.8,1675.6 1339.9,1673.6 1340.1,1671.6 1340.2,1669.6 1340.4,1667.6 1340.5,1665.6 1340.7,1663.6 1340.8,1661.6 1341,1659.6 1341.1,1657.6 1341.3,1655.6 1341.4,1653.6 1341.6,1651.6 1341.7,1649.6 1341.9,1647.6 1342,1645.6 1342.2,1643.6 1342.3,1641.6 1342.4,1639.6 1342.6,1637.7 1342.7,1635.7 1342.8,1633.7 1342.9,1631.7 1343,1629.7 1343.1,1627.7 1343.2,1625.7 1343.3,1623.7 1343.3,1621.7 1343.4,1619.7 1343.5,1617.7 1343.6,1615.7 1343.7,1613.7 1343.8,1611.7 1343.8,1609.7 1343.9,1607.7 1344,1605.7 1344.1,1603.7 1344.1,1601.7 1344.2,1599.7 1344.3,1597.7 1344.3,1595.7 1344.4,1593.7 1344.5,1591.7 1344.6,1589.7 1344.6,1587.7 1344.7,1585.7 1344.8,1583.7 1344.8,1581.7 1344.9,1579.7 1345,1577.7 1345,1575.7 1345.1,1573.7 1345.2,1571.7 1345.3,1569.7 1345.4,1567.7 1345.4,1565.7 1345.5,1563.7 1345.6,1561.7 1345.7,1559.7 1345.8,1557.7 1345.8,1555.7 1345.9,1553.7 1346,1551.7 1346.1,1549.7 1346.2,1547.7 1346.2,1545.7 1346.3,1543.7 1346.4,1541.7 1346.5,1539.7 1346.6,1537.7 1346.6,1535.7 1346.7,1533.7 1346.8,1531.7 1346.9,1529.7 1347,1527.7 1347.1,1525.7 1347.1,1523.7 1347.2,1521.7 1347.3,1519.7 1347.4,1517.8 1347.5,1515.8 1347.6,1513.8 1347.7,1511.8 1347.8,1509.8 1347.9,1507.8 1348,1505.8 1348.1,1503.8 1348.2,1501.8 1348.3,1499.8 1348.4,1497.8 1348.5,1495.8 1348.7,1493.8 1348.8,1491.8 1348.9,1489.8 1349,1487.8 1349.2,1485.8 1349.3,1483.8 1349.5,1481.8 1349.6,1479.8 1349.7,1477.8 1349.9,1475.8 1350,1473.8 1350.1,1471.8 1350.2,1469.8 1350.4,1467.8 1350.5,1465.8 1350.6,1463.8 1350.7,1461.8 1350.8,1459.9 1350.9,1457.9 1351,1455.9 1351,1455" fill="none" stroke="#560c0c" stroke-width="4.2" stroke-linejoin="round"/>
</g>
<polygon points="1344.7,1574.1 1346.7,1579.6 1352.6,1579.8 1347.9,1583.5 1349.6,1589.1 1344.7,1585.8 1339.8,1589.1 1341.5,1583.5 1336.8,1579.8 1342.7,1579.6" fill="#d42020"/>
<path d="M1271,1607.3 L1328,1586.5" stroke="#000" stroke-width="2.2"/>
<polygon points="1337.7,1583.1 1324,1581.5 1327.8,1592" fill="#000"/>
<text x="987" y="1612" font-size="23.3" text-anchor="start" font-weight="normal" fill="#000" >Solar to H<tspan font-size="20">2</tspan> operating point</text>
<rect x="933.8" y="1461.0" width="546.6000000000001" height="417.4000000000001" fill="none" stroke="#000" stroke-width="3"/>
<path d="M924.8,1878.6 H933.8 M928.8,1840.6 H933.8 M924.8,1802.6 H933.8 M928.8,1764.6 H933.8 M924.8,1726.6 H933.8 M928.8,1688.6 H933.8 M924.8,1650.6 H933.8 M928.8,1612.6 H933.8 M924.8,1574.6 H933.8 M928.8,1536.6 H933.8 M924.8,1498.6 H933.8 M928.8,1460.6 H933.8 M933.4,1878.4 V1887.4 M1001.8,1878.4 V1883.4 M1070.1,1878.4 V1887.4 M1138.5,1878.4 V1883.4 M1206.8,1878.4 V1887.4 M1275.2,1878.4 V1883.4 M1343.5,1878.4 V1887.4 M1411.8,1878.4 V1883.4 M1480.2,1878.4 V1887.4" stroke="#000" stroke-width="2.8" fill="none"/>
<text x="920" y="1887.8" font-size="25.5" text-anchor="end" font-weight="normal" fill="#000" >0</text>
<text x="920" y="1811.8" font-size="25.5" text-anchor="end" font-weight="normal" fill="#000" >4</text>
<text x="920" y="1735.8" font-size="25.5" text-anchor="end" font-weight="normal" fill="#000" >8</text>
<text x="920" y="1659.8" font-size="25.5" text-anchor="end" font-weight="normal" fill="#000" >12</text>
<text x="920" y="1583.8" font-size="25.5" text-anchor="end" font-weight="normal" fill="#000" >16</text>
<text x="920" y="1507.8" font-size="25.5" text-anchor="end" font-weight="normal" fill="#000" >20</text>
<text x="933.4" y="1913" font-size="25.5" text-anchor="middle" font-weight="normal" fill="#000" >0.0</text>
<text x="1070.1" y="1913" font-size="25.5" text-anchor="middle" font-weight="normal" fill="#000" >0.5</text>
<text x="1206.8" y="1913" font-size="25.5" text-anchor="middle" font-weight="normal" fill="#000" >1.0</text>
<text x="1343.5" y="1913" font-size="25.5" text-anchor="middle" font-weight="normal" fill="#000" >1.5</text>
<text x="1480.2" y="1913" font-size="25.5" text-anchor="middle" font-weight="normal" fill="#000" >2.0</text>
<text transform="translate(878,1672) rotate(-90)" font-size="26.5" text-anchor="middle" fill="#000">Current density (mA cm<tspan dy="-13" font-size="18.5">-2</tspan><tspan dy="13">)</tspan></text>
<text x="1232" y="1939.5" font-size="26" text-anchor="middle" font-weight="normal" fill="#000" >Voltage (V)</text>
<path d="M959,1769.1 H998.4" stroke="#5a0c0c" stroke-width="4.2"/>
<path d="M959,1799.9 H998.4" stroke="#5b8fd9" stroke-width="4.6"/>
<text x="1005.5" y="1777.5" font-size="24" text-anchor="start" font-weight="normal" fill="#000" >CC/TiC/Pt-NiFe LDH</text>
<text x="1005.5" y="1808.3" font-size="24" text-anchor="start" font-weight="normal" fill="#000" >PV-reverse scan</text>
</g>
<g id="pd">
<defs><linearGradient id="grayg" x1="0" y1="0" x2="0" y2="1"><stop offset="0" stop-color="#6e6e6e"/><stop offset="0.55" stop-color="#7a7a7a"/><stop offset="0.6" stop-color="#8e8e8e"/><stop offset="1" stop-color="#8a8a8a"/></linearGradient></defs>
<rect x="92" y="1535.5" width="635" height="24" fill="#d9dae6"/>
<rect x="92" y="1562" width="635" height="272.5" fill="#c4d4e7"/>
<rect x="92" y="1836.5" width="635" height="38.5" fill="#d9dae6"/>
<path d="M92.6,1562 V1834 M726.5,1562 V1834" stroke="#8090dc" stroke-width="1.3"/>
<path d="M68,1533.3 H754 M68,1560.7 H587 M674,1560.7 H754 M67,1834.7 H145 M248.6,1834.7 H754 M68,1876.3 H754" stroke="#000" stroke-width="3.8" fill="none"/>
<path d="M587,1560.7 H674 M145,1834.7 H248.6" stroke="#8090dc" stroke-width="1.2"/>
<rect x="181.5" y="1860.3" width="50.6" height="30.8" fill="#3f50e6"/>
<rect x="279.9" y="1847.1" width="18.7" height="55" fill="url(#grayg)"/>
<rect x="232" y="1860.3" width="50.7" height="11" fill="#0a0a0a"/>
<rect x="300.9" y="1594.6" width="10.8" height="315.2" fill="#b08a1e"/>
<rect x="315.8" y="1658.4" width="84" height="220" fill="#5490de"/>
<rect x="401.7" y="1590.8" width="11.8" height="319" fill="#c94b6b"/>
<rect x="417.2" y="1663.4" width="14" height="224.3" fill="#d9a878"/>
<rect x="445.8" y="1495.1" width="11.2" height="269.8" fill="#b8284a"/>
<rect x="458.8" y="1534.3" width="11.2" height="254.9" fill="#b2541d"/>
<rect x="472.8" y="1486.7" width="60" height="316.1" fill="#c9a33d"/>
<rect x="535.6" y="1502.5" width="10.2" height="242.5" fill="#2e3d95"/>
<rect x="548.8" y="1512.4" width="19" height="55.7" fill="url(#grayg)"/>
<rect x="605.2" y="1518.6" width="50.6" height="30.8" fill="#d04524"/>
<rect x="562.7" y="1538" width="47.7" height="10.3" fill="#0a0a0a"/>
<rect x="316.3" y="1658.9" width="83" height="219" fill="none" stroke="#6aa8b8" stroke-width="1"/>
<path d="M727.8,1488 V1905" stroke="#000" stroke-width="2.2"/>
<polygon points="727.8,1475.5 721,1490.5 734.6,1490.5" fill="#000"/>
<polygon points="727.8,1916.5 721,1903.5 734.6,1903.5" fill="#000"/>
<path d="M717.8,1460.3 H738.7" stroke="#000" stroke-width="3"/>
<path d="M723,1934.5 H741 M732,1924.5 V1944" stroke="#000" stroke-width="2.6"/>
<path d="M739.8,1503 V1524" stroke="#000" stroke-width="2"/>
<polygon points="739.8,1532 735,1521 744.6,1521" fill="#000"/>
<path d="M739.8,1600 V1570" stroke="#000" stroke-width="2"/>
<polygon points="739.8,1561.5 735,1572.5 744.6,1572.5" fill="#000"/>
<path d="M79.2,1838 V1873" stroke="#000" stroke-width="3"/>
<path d="M72,1846 L79.2,1838.5 L86.4,1846 M72,1865.5 L79.2,1873 L86.4,1865.5" stroke="#000" stroke-width="3" fill="none"/>
<text x="43" y="1573.5" font-size="25" text-anchor="start" font-weight="normal" fill="#000" >0</text>
<text x="758.5" y="1839.5" font-size="25.5" text-anchor="start" font-weight="normal" fill="#000" >+1.23</text>
<text x="754.5" y="1554.8" font-size="31" font-style="italic" font-family="Liberation Serif, serif" fill="#000">&#951;</text>
<text x="773" y="1561.5" font-size="18.6" text-anchor="start" font-weight="normal" fill="#000" >HER</text>
<text x="15.5" y="1869.5" font-size="31" font-style="italic" font-family="Liberation Serif, serif" fill="#000">&#951;</text>
<text x="34" y="1875.7" font-size="18.6" text-anchor="start" font-weight="normal" fill="#000" >OER</text>
<text x="593" y="1571.4" font-size="23" fill="#000" textLength="77.5" lengthAdjust="spacingAndGlyphs">H<tspan font-size="16" dy="4">2</tspan><tspan dy="-4">O/</tspan><tspan font-weight="bold">H</tspan><tspan font-weight="bold" font-size="16" dy="4">2</tspan></text>
<text x="161" y="1843.5" font-size="23" fill="#000" textLength="77.5" lengthAdjust="spacingAndGlyphs"><tspan font-weight="bold">O</tspan><tspan font-weight="bold" font-size="16" dy="4">2</tspan><tspan dy="-4">/H</tspan><tspan font-size="16" dy="4">2</tspan><tspan dy="-4">O</tspan></text>
<text x="379" y="1587.5" font-size="22" fill="#000">e<tspan font-size="14" dy="-9">-</tspan></text>
<text x="571" y="1508.7" font-size="22" fill="#000">e<tspan font-size="14" dy="-9">-</tspan></text>
<text x="496" y="1832.7" font-size="22" fill="#000">h<tspan font-size="14" dy="-9">+</tspan></text>
<text x="222" y="1949.4" font-size="22" fill="#000">h<tspan font-size="14" dy="-9">+</tspan></text>
<text transform="translate(191,1721) rotate(-48)" font-size="21" fill="#000">H<tspan font-size="14" dy="4">2</tspan><tspan dy="-4">O</tspan></text>
<text transform="translate(626,1721) rotate(-48)" font-size="21" fill="#000">H<tspan font-size="14" dy="4">2</tspan><tspan dy="-4">O</tspan></text>
<text transform="translate(366,1769) rotate(-90)" font-size="24" fill="#fff" text-anchor="middle">c-Si 1.1eV</text>
<text transform="translate(500,1791) rotate(-90)" font-size="25" font-weight="bold" fill="#fff" textLength="278" lengthAdjust="spacingAndGlyphs">Cs<tspan font-size="17" font-weight="normal" dy="4">0.19</tspan><tspan dy="-4">FA</tspan><tspan font-size="17" font-weight="normal" dy="4">0.81</tspan><tspan dy="-4">Pb(Br</tspan><tspan font-size="17" font-weight="normal" dy="4">0.13</tspan><tspan dy="-4">I</tspan><tspan font-size="17" font-weight="normal" dy="4">0.87</tspan><tspan dy="-4">)</tspan><tspan font-size="17" font-weight="normal" dy="4">3</tspan></text>
<text transform="translate(528,1639) rotate(-90)" font-size="25" font-weight="bold" fill="#fff" text-anchor="middle">1.6 eV</text>
<text transform="translate(211.8,1476) rotate(-52.2)" font-size="16" font-weight="bold" fill="#1f3fe6" textLength="61" lengthAdjust="spacingAndGlyphs">NiFe LDH</text>
<text transform="translate(282,1476) rotate(-52.2)" font-size="16" font-weight="normal" fill="#555" textLength="48" lengthAdjust="spacingAndGlyphs">ITO/Ag</text>
<text transform="translate(311,1481) rotate(-52.2)" font-size="16" font-weight="bold" fill="#b08a1e" textLength="55" lengthAdjust="spacingAndGlyphs">a-Si(i/n)</text>
<text transform="translate(380,1482) rotate(-52.2)" font-size="16" font-weight="bold" fill="#c8486a" textLength="55" lengthAdjust="spacingAndGlyphs">a-Si(i/n)</text>
<text transform="translate(408,1481.5) rotate(-52.2)" font-size="16" font-weight="bold" fill="#e07a30" textLength="62" lengthAdjust="spacingAndGlyphs">nc-Si(n+)</text>
<text transform="translate(434,1482) rotate(-52.2)" font-size="16" font-weight="bold" fill="#b01840" textLength="62" lengthAdjust="spacingAndGlyphs">nc-Si(p+)</text>
<text transform="translate(461,1481.5) rotate(-52.2)" font-size="16" font-weight="bold" fill="#b04a14" textLength="63" lengthAdjust="spacingAndGlyphs">SpiroTTB</text>
<text transform="translate(559,1483.5) rotate(-52.2)" font-size="16" font-weight="normal" fill="#555" textLength="48" lengthAdjust="spacingAndGlyphs">ITO/Ag</text>
<text transform="translate(620,1483.5) rotate(-52.2)" font-size="16" font-weight="bold" fill="#d04020" textLength="67" lengthAdjust="spacingAndGlyphs">CC/TiC/Pt</text>
<text transform="translate(527,1480) rotate(-52.2)" font-size="16" font-weight="bold" fill="#23338f" textLength="66" lengthAdjust="spacingAndGlyphs">C<tspan font-size="11" dy="3">60</tspan><tspan dy="-3">/SnO</tspan><tspan font-size="11" dy="3">2</tspan></text>
<path d="M288,1915 C284,1928 268,1934 256,1931 C246,1928 242,1920 242,1910" fill="none" stroke="#8a8a8a" stroke-width="8.5" stroke-linecap="butt"/>
<path d="M288,1915 C284,1928 268,1934 256,1931 C246,1928 242,1920 242,1910" fill="none" stroke="#3c3c3c" stroke-width="5.5" stroke-linecap="butt"/>
<polygon points="239.8,1892.2 231,1906 250,1908" fill="#3c3c3c" stroke="#8a8a8a" stroke-width="1.5" stroke-linejoin="round"/>
<path d="M394,1620 C388,1600 396,1582 411,1578.5 C421,1576.5 429,1580 434,1586" fill="none" stroke="#8a8a8a" stroke-width="8.5" stroke-linecap="butt"/>
<path d="M394,1620 C388,1600 396,1582 411,1578.5 C421,1576.5 429,1580 434,1586" fill="none" stroke="#3c3c3c" stroke-width="5.5" stroke-linecap="butt"/>
<polygon points="440.5,1597.7 424,1589 438,1580" fill="#3c3c3c" stroke="#8a8a8a" stroke-width="1.5" stroke-linejoin="round"/>
<path d="M474,1813 C488,1822 490,1842 482,1852 C476,1860 466,1862 458,1859" fill="none" stroke="#8a8a8a" stroke-width="8.5" stroke-linecap="butt"/>
<path d="M474,1813 C488,1822 490,1842 482,1852 C476,1860 466,1862 458,1859" fill="none" stroke="#3c3c3c" stroke-width="5.5" stroke-linecap="butt"/>
<polygon points="441.3,1852 461,1852.5 450.5,1867" fill="#3c3c3c" stroke="#8a8a8a" stroke-width="1.5" stroke-linejoin="round"/>
<path d="M552.8,1500 C560,1488 575,1483 588,1488 C600,1494 603,1506 597,1518" fill="none" stroke="#8a8a8a" stroke-width="8.5" stroke-linecap="butt"/>
<path d="M552.8,1500 C560,1488 575,1483 588,1488 C600,1494 603,1506 597,1518" fill="none" stroke="#3c3c3c" stroke-width="5.5" stroke-linecap="butt"/>
<polygon points="593.5,1531.8 589,1514 604,1521" fill="#3c3c3c" stroke="#8a8a8a" stroke-width="1.5" stroke-linejoin="round"/>
</g>
<g id="pa">
<defs>
<radialGradient id="sunglow" gradientUnits="userSpaceOnUse" cx="-200" cy="490" r="350" gradientTransform="translate(-200,490) scale(1,0.9) translate(200,-490)">
<stop offset="0.72" stop-color="#fff064"/>
<stop offset="0.80" stop-color="#fff382"/>
<stop offset="0.86" stop-color="#fff69a"/>
<stop offset="0.92" stop-color="#fffac2"/>
<stop offset="0.97" stop-color="#fffeee"/>
<stop offset="1" stop-color="#ffffff"/>
</radialGradient>
<clipPath id="sunclip"><rect x="3" y="200" width="200" height="394"/></clipPath>
<clipPath id="sunclip2"><rect x="3" y="300" width="120" height="259"/></clipPath>
</defs>
<g clip-path="url(#sunclip)"><rect x="0" y="150" width="210" height="460" fill="url(#sunglow)"/></g>
<g clip-path="url(#sunclip2)"><circle cx="-200" cy="490" r="252" fill="#ffec00"/></g>
<polygon points="675.2,304.5 703,308.5 706,305.5 722,307.5 725,311 772.6,328.8 657.2,468 662,462" fill="#b1b1b1"/>
<polygon points="290,201 350,190 453,186.5 460,187.8 484,192.5 592,207 592,266 290,246" fill="#a3a3a3"/>
<polygon points="281,200.5 350,189 350,192.5 291,203 291,252 281,252" fill="#d9d9d9"/>
<polygon points="460,187.8 484,192.5 484,237 460,236" fill="#d3d3d3"/>
<polygon points="590.4,208 683.2,223.2 665.6,460 657,468 590,440" fill="#a2a2a2"/>
<polygon points="597.6,212.8 674.4,224.8 670.5,279 594,264" fill="#cbcbcb"/>
<polygon points="290,244 350,236 460,236 484,237 592,264 668.5,279.2 657.5,462 540,546 335,432 320,255 290,252" fill="#60abbe"/>
<polygon points="588,268 668.5,279.2 657.5,462 578,446" fill="#6bbdd1"/>
<polygon points="594,264 668.5,279.2 592,313" fill="#7fcadc"/>
<polygon points="460,236 484,237 484,318 460,312" fill="#89cfe0"/>
<polygon points="335,432 540,546 657.5,462 648,463 570,453 540,520 360,418" fill="#6db6c8"/>
<polygon points="333.5,428.5 541,543.5 657.6,463 658,468 541,549 334,434" fill="#d9d7d7"/>
<polygon points="334,434 541,549 658,468 658.5,472 541,554.5 334.5,438.5" fill="#bdbdbd"/>
<path d="M539.8,466 V549" stroke="#8cc6d6" stroke-width="1"/>
<circle cx="605.9" cy="309.5" r="6.5" fill="#4a9bb1"/>
<circle cx="600.7" cy="328.5" r="8.5" fill="#4a9bb1"/>
<circle cx="626.7" cy="342.4" r="6.5" fill="#4a9bb1"/>
<circle cx="609.3" cy="358" r="8" fill="#4a9bb1"/>
<circle cx="621.5" cy="364.9" r="9" fill="#4a9bb1"/>
<circle cx="605.9" cy="385.7" r="7" fill="#4a9bb1"/>
<circle cx="611.1" cy="406.5" r="7" fill="#4a9bb1"/>
<circle cx="612.8" cy="423.9" r="6.5" fill="#4a9bb1"/>
<circle cx="618" cy="441.2" r="6" fill="#4a9bb1"/>
<circle cx="579.9" cy="455.1" r="6" fill="#4a9bb1"/>
<circle cx="477.6" cy="292.1" r="5.5" fill="#4a9bb1"/>
<circle cx="479.3" cy="312.9" r="5.5" fill="#4a9bb1"/>
<circle cx="570" cy="450" r="6" fill="#4a9bb1"/>
<polygon points="349.6,173.8 451.8,162 452,238.4 351,255.7" fill="#3a3b3f"/>
<polygon points="351,255.7 452,238.4 453.3,392.7 370,428" fill="#1e6576"/>
<polygon points="351,255.7 355,255 372.5,427 370,428" fill="#1a5a69"/>
<polygon points="485.6,195.8 591.2,180.8 588.8,269.6 486.3,293.9" fill="#c25c1e"/>
<polygon points="486.3,293.9 588.8,269.6 578.1,444.7 484.5,489.7" fill="#7c7a45"/>
<circle cx="435" cy="271.3" r="7.5" fill="#3bbad9"/>
<circle cx="423.2" cy="293.2" r="7.5" fill="#3bbad9"/>
<circle cx="401.3" cy="328.5" r="7.5" fill="#3bbad9"/>
<circle cx="435.3" cy="335.5" r="7.5" fill="#3bbad9"/>
<circle cx="397.9" cy="369.1" r="7.5" fill="#3bbad9"/>
<circle cx="437.7" cy="370.1" r="7.5" fill="#3bbad9"/>
<circle cx="418.7" cy="392.7" r="7.5" fill="#3bbad9"/>
<circle cx="578.8" cy="292.1" r="8" fill="#3bbad9"/>
<circle cx="558.4" cy="304.3" r="8" fill="#3bbad9"/>
<circle cx="574.7" cy="338.9" r="8.5" fill="#3bbad9"/>
<circle cx="581.6" cy="354.5" r="8" fill="#3bbad9"/>
<circle cx="543.5" cy="378.8" r="8" fill="#3bbad9"/>
<circle cx="568.8" cy="394.4" r="8" fill="#3bbad9"/>
<circle cx="588.5" cy="378.8" r="7.5" fill="#3bbad9"/>
<circle cx="586.8" cy="408.3" r="7.5" fill="#3bbad9"/>
<circle cx="534.8" cy="425.6" r="7.5" fill="#3bbad9"/>
<circle cx="555.6" cy="451.6" r="7.5" fill="#3bbad9"/>
<circle cx="600.7" cy="439.5" r="7.5" fill="#3bbad9"/>
<circle cx="581.6" cy="427.3" r="7" fill="#3bbad9"/>
<polygon points="142.8,208 281,246 300,247 302,251 145,212" fill="#d6d9de"/>
<polygon points="140,212 281,250 302,251 325,466 316,463 244,421 207,399 161,373" fill="#eef0f3"/>
<polygon points="306,251 320,257 335.3,463.3 325,466" fill="#b9b9bb"/>
<polygon points="139.6,217.2 198.8,235.2 217,377.5 204,377 161.2,372.8 157,348" fill="#edb526"/>
<polygon points="198.8,235.2 205.6,236.5 223.5,378 217,377.5" fill="#c99a22"/>
<polygon points="148.8,252.8 194,267 204,348 192.5,346.5 193.5,367 207,377 206.4,398.4 161.2,372.8 157.2,348 174.4,354.4 173.6,334 159.2,328.8" fill="#7b3d14"/>
<polygon points="204,377 225,377.5 232,382 233,389 242,394 244.5,420.5 241,421 207,399" fill="#68686c"/>
<polygon points="211.6,242.4 297,264 304.5,458 243.9,420.4" fill="#edb526"/>
<polygon points="297,264 305.5,266 316.7,459.6 304.5,458" fill="#c99a22"/>
<polygon points="211.7,242.6 301.3,265.5 302.7,301.9 268,291.5 269,323 288,328.5 296.1,419.5 233,390 228.8,309 243,309 241,281 215,273.9" fill="#7b3d14"/>
<polygon points="293,265 301.3,265.5 302.7,301.9 294.5,299.5" fill="#663110"/>
<polygon points="211.7,242.6 301.3,265.5 300,267.5 212,245" fill="#8e4a1c"/>
<polyline points="150,218 136.8,132.4 356.1,117.2 358,173.8" fill="none" stroke="#e31e24" stroke-width="2.9"/>
<polyline points="275,260 264.2,153.4 499.4,129.8 498.6,196.2" fill="none" stroke="#000" stroke-width="3.9"/>
<path d="M354.7,102.4 H377 M365.9,91.2 V113" stroke="#e31e24" stroke-width="3.6"/>
<path d="M503,114.2 H530.2" stroke="#000" stroke-width="4"/>
<path d="M413.6,415 C402,401 399,381 408,368 C413,361 420,357.5 428.5,356 L428.5,345.5 L446.7,359.8 L428.5,375 L428.5,367.5 C422,369 416.5,373 413.5,380 C409.5,390 410.5,403 413.6,415 Z" fill="#fff"/>
<path d="M543.2,478 C532,463 530.5,444 540,431.5 C545,425 552,421.5 561,420 L561.2,411 L575.6,423.6 L564.8,439.5 L563.5,433 C557,435.5 552,440.5 549,447.5 C545.5,457 545,468 543.2,478 Z" fill="#fff"/>
<text x="450" y="368.4" font-size="25" fill="#fff">O<tspan font-size="17" dy="5">2</tspan></text>
<text x="396.5" y="440" font-size="25" fill="#fff">OH<tspan font-size="17" dy="-9">-</tspan></text>
<text x="586" y="430.8" font-size="25" fill="#fff">H<tspan font-size="17" dy="5">2</tspan></text>
<text x="524.5" y="501.6" font-size="25" fill="#fff">H<tspan font-size="17" dy="5">2</tspan><tspan dy="-5">O</tspan></text>
</g>
</svg>
</body></html>
